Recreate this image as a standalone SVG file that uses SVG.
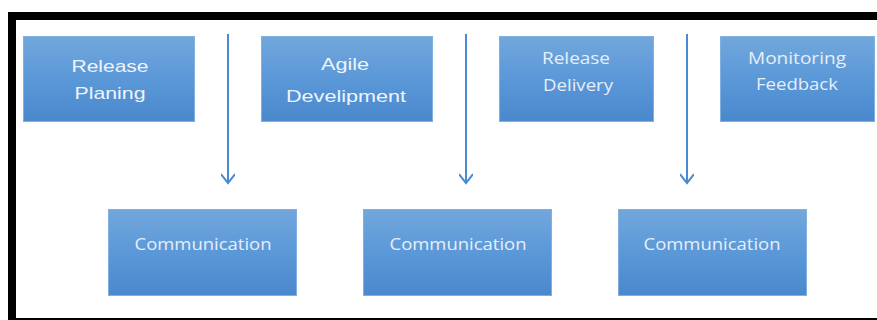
<svg xmlns="http://www.w3.org/2000/svg" width="877" height="320" viewBox="0 0 877 320">
<defs>
<linearGradient id="g" x1="0" y1="0" x2="0" y2="1">
<stop offset="0" stop-color="#72a7dc"/>
<stop offset="0.5" stop-color="#5b98d8"/>
<stop offset="1" stop-color="#4a88cd"/>
</linearGradient>
<marker id="arr" markerWidth="14" markerHeight="14" refX="11" refY="7" orient="auto" markerUnits="userSpaceOnUse" viewBox="0 0 14 14">
<path d="M2,0 L11,7 L2,14" fill="none" stroke="#4a8ad0" stroke-width="2"/>
</marker>
</defs>
<style>
.box{fill:url(#g);stroke:#7fb0e0;stroke-width:1}
.t1{font-family:"Liberation Sans",Arial,sans-serif;font-size:17px;fill:#eef4fb;text-anchor:middle}
.t2{font-family:"Open Sans","DejaVu Sans",sans-serif;font-size:17px;fill:#e6eef8;text-anchor:middle}
.con{stroke:#4a8ad0;stroke-width:2;fill:none}
</style>
<rect width="877" height="320" fill="#ffffff"/>
<g id="frame">
<rect x="8" y="12" width="869" height="8" fill="#000"/>
<rect x="8" y="12" width="8" height="308" fill="#000"/>
<rect x="8" y="318" width="869" height="2" fill="#000"/>
</g>
<g id="connectors">
<line class="con" x1="228" y1="34" x2="228" y2="183" marker-end="url(#arr)"/>
<line class="con" x1="466" y1="34" x2="466" y2="183" marker-end="url(#arr)"/>
<line class="con" x1="687" y1="34" x2="687" y2="183" marker-end="url(#arr)"/>
</g>
<g id="release-planing">
<rect class="box" x="23.5" y="36.5" width="171" height="85"/>
<text class="t1" x="110" y="72" textLength="77" lengthAdjust="spacingAndGlyphs">Release</text>
<text class="t1" x="110" y="99" textLength="71" lengthAdjust="spacingAndGlyphs">Planing</text>
</g>
<g id="agile-development">
<rect class="box" x="261.5" y="36.5" width="171" height="85"/>
<text class="t1" x="345" y="70" textLength="48" lengthAdjust="spacingAndGlyphs">Agile</text>
<text class="t1" x="346" y="102" textLength="120" lengthAdjust="spacingAndGlyphs">Develipment</text>
</g>
<g id="release-delivery">
<rect class="box" x="499.5" y="36.5" width="154" height="85"/>
<text class="t2" x="576" y="64" textLength="68" lengthAdjust="spacingAndGlyphs">Release</text>
<text class="t2" x="578" y="91" textLength="70" lengthAdjust="spacingAndGlyphs">Delivery</text>
</g>
<g id="monitoring-feedback">
<rect class="box" x="720.5" y="36.5" width="154" height="85"/>
<text class="t2" x="797" y="64" textLength="98" lengthAdjust="spacingAndGlyphs">Monitoring</text>
<text class="t2" x="797" y="90" textLength="82" lengthAdjust="spacingAndGlyphs">Feedback</text>
</g>
<g id="communication-1">
<rect class="box" x="108.5" y="209.5" width="188" height="86"/>
<text class="t2" x="203" y="250" textLength="137" lengthAdjust="spacingAndGlyphs">Communication</text>
</g>
<g id="communication-2">
<rect class="box" x="363.5" y="209.5" width="188" height="86"/>
<text class="t2" x="458" y="250" textLength="137" lengthAdjust="spacingAndGlyphs">Communication</text>
</g>
<g id="communication-3">
<rect class="box" x="618.5" y="209.5" width="188" height="86"/>
<text class="t2" x="712" y="250" textLength="137" lengthAdjust="spacingAndGlyphs">Communication</text>
</g>
</svg>
